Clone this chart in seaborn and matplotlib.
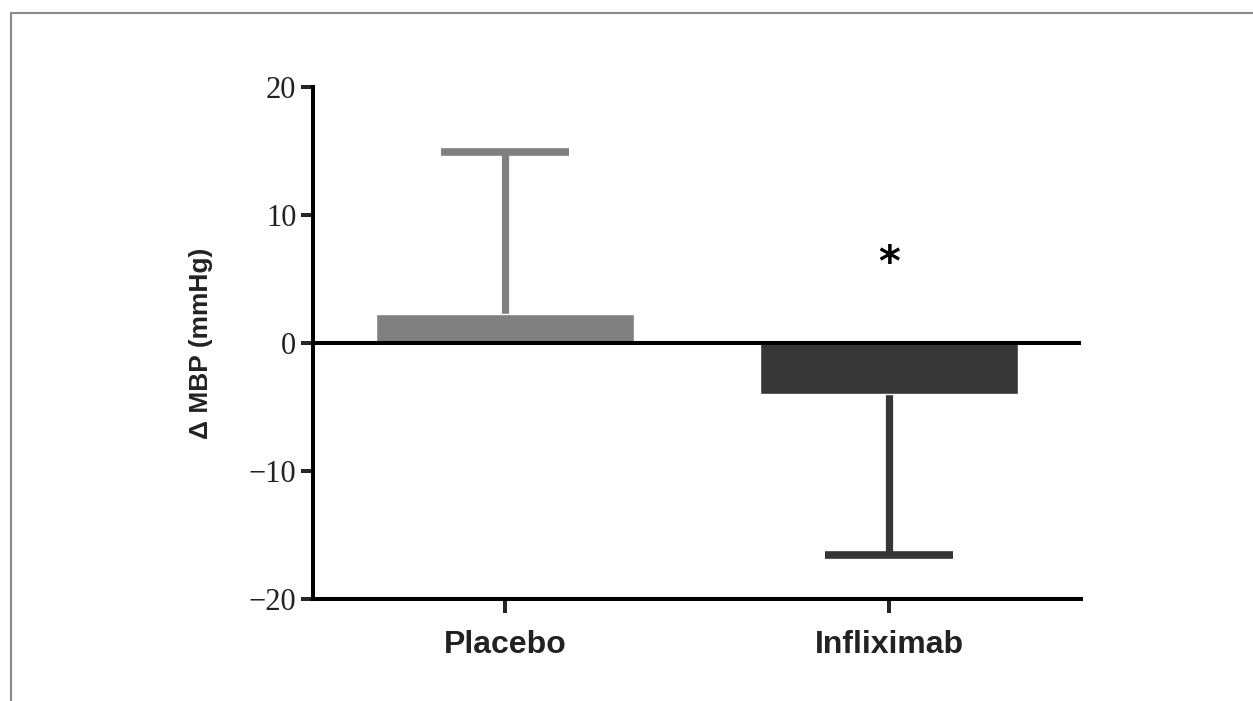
import matplotlib
matplotlib.use('Agg')
import matplotlib.pyplot as plt
import seaborn as sns
import pandas as pd
from matplotlib.lines import Line2D

groups = ['Placebo', 'Infliximab']
mean_change = [2.3, -4.0]
sem_change = [12.6, 12.6]
bar_colors = ['#808080', '#363636']
yticks = [-20, -10, 0, 10, 20]

sns.set_style('ticks')
label_font = ['Liberation Sans Narrow', 'Liberation Sans', 'DejaVu Sans']

df = pd.DataFrame({'group': groups, 'mbp': mean_change})

fig = plt.figure(figsize=(12.53, 7.01), dpi=100)
ax = fig.add_axes([313 / 1253, 1 - 599 / 701, (1081 - 313) / 1253, (599 - 87) / 701])

bar_width = 0.67
sns.barplot(data=df, x='group', y='mbp', hue='group', palette=bar_colors,
            errorbar=None, width=bar_width, saturation=1, legend=False, ax=ax, zorder=2)

# one-sided error bars (away from zero), cap half the bar width
cap = bar_width / 4
for i, (m, s, c) in enumerate(zip(mean_change, sem_change, bar_colors)):
    end = m + s if m >= 0 else m - s
    ax.vlines(i, 0, end, color=c, lw=5.2, zorder=1)
    ax.hlines(end, i - cap, i + cap, color=c, lw=5.5, zorder=1)

ax.axhline(0, color='black', lw=2.9, zorder=3)

# significance marker
ax.text(1, 6.2, '*', ha='center', va='center', fontsize=30, fontweight='bold',
        family='DejaVu Sans', color='black')

ax.set_xlim(-0.5, 1.5)
ax.set_ylim(-20, 20)
ax.set_yticks(yticks)
ax.set_yticklabels([str(t).replace('-', '\u2212') for t in yticks],
                   family='Liberation Serif', fontsize=22, color='#222222')
ax.set_xticks([0, 1])
ax.set_xticklabels(groups, family=label_font, fontsize=23, fontweight='bold', color='#222222')
ax.set_xlabel('')
ax.set_ylabel('\u0394 MBP (mmHg)', family=label_font, fontsize=19, fontweight='bold',
              color='#222222', labelpad=26)

for side in ['top', 'right']:
    ax.spines[side].set_visible(False)
for side in ['left', 'bottom']:
    ax.spines[side].set_linewidth(2.9)
    ax.spines[side].set_color('black')

ax.tick_params(axis='y', direction='out', length=9, width=2.9, pad=3)
ax.tick_params(axis='x', direction='out', length=10, width=2.9, pad=12)

# frame around figure (left and top edges)
fig.add_artist(Line2D([11 / 1253, 11 / 1253], [0, 1 - 13 / 701], color='#8a8a8a', lw=1.5))
fig.add_artist(Line2D([11 / 1253, 1], [1 - 13 / 701, 1 - 13 / 701], color='#8a8a8a', lw=1.5))

fig.savefig('out.png', dpi=100, facecolor='white')
